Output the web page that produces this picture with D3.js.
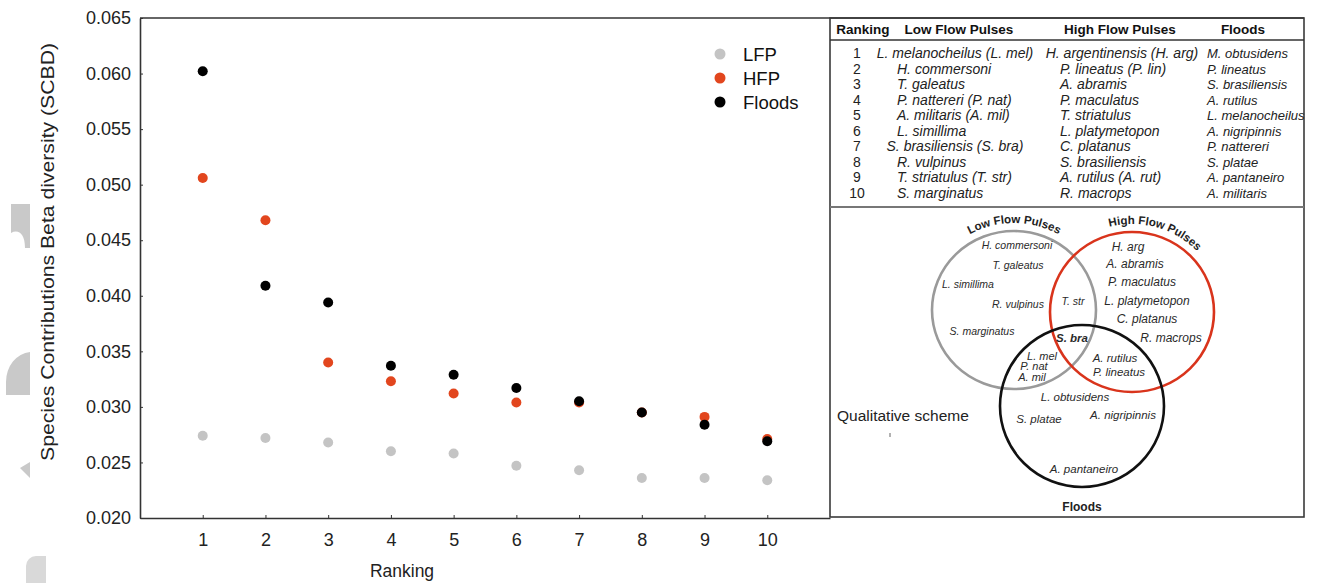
<!DOCTYPE html>
<html>
<head>
<meta charset="utf-8">
<script src="https://d3js.org/d3.v7.min.js"></script>
<style>
  body { margin: 0; background: #fff; }
  svg { display: block; font-family: "Liberation Sans", Arial, Helvetica, sans-serif; }
</style>
</head>
<body>
<svg id="chart"></svg>
<script>
// ---- data: SCBD per ranking ----
var rankings = [1, 2, 3, 4, 5, 6, 7, 8, 9, 10];
var lfpValues   = [0.0274, 0.0272, 0.0268, 0.0260, 0.0258, 0.0247, 0.0243, 0.0236, 0.0236, 0.0234];
var hfpValues   = [0.0506, 0.0468, 0.0340, 0.0323, 0.0312, 0.0304, 0.0304, 0.0295, 0.0291, 0.0271];
var floodValues = [0.0602, 0.0409, 0.0394, 0.0337, 0.0329, 0.0317, 0.0305, 0.0295, 0.0284, 0.0269];
var seriesNames = ["LFP", "HFP", "Floods"];
var yTicks = [0.020, 0.025, 0.030, 0.035, 0.040, 0.045, 0.050, 0.055, 0.060, 0.065];

// ---- data: ranking table ----
var tableHeaders = ["Ranking", "Low Flow Pulses", "High Flow Pulses", "Floods"];
var lfpSpecies = ["L. melanocheilus (L. mel)", "H. commersoni", "T. galeatus", "P. nattereri (P. nat)",
  "A. militaris (A. mil)", "L. simillima", "S. brasiliensis (S. bra)", "R. vulpinus",
  "T. striatulus (T. str)", "S. marginatus"];
var hfpSpecies = ["H. argentinensis (H. arg)", "P. lineatus (P. lin)", "A. abramis", "P. maculatus",
  "T. striatulus", "L. platymetopon", "C. platanus", "S. brasiliensis", "A. rutilus (A. rut)", "R. macrops"];
var floodSpecies = ["M. obtusidens", "P. lineatus", "S. brasiliensis", "A. rutilus", "L. melanocheilus",
  "A. nigripinnis", "P. nattereri", "S. platae", "A. pantaneiro", "A. militaris"];

// ---- data: qualitative scheme (venn groups) ----
var vennSets = ["Low Flow Pulses", "High Flow Pulses", "Floods"];
var lfpOnly = ["H. commersoni", "T. galeatus", "L. simillima", "R. vulpinus", "S. marginatus"];
var lfpHfp = ["T. str"];
var allThree = ["S. bra"];
var lfpFloods = ["L. mel", "P. nat", "A. mil"];
var hfpOnly = ["H. arg", "A. abramis", "P. maculatus", "L. platymetopon", "C. platanus", "R. macrops"];
var hfpFloods = ["A. rutilus", "P. lineatus"];
var floodsOnly = ["L. obtusidens", "S. platae", "A. nigripinnis", "A. pantaneiro"];

var colors = { LFP: "#c4c4c4", HFP: "#e2461e", Floods: "#000000" };

var W = 1317, H = 583;
var svg = d3.select("#chart").attr("width", W).attr("height", H);

// faint cut-off shapes on the left margin of the figure
var deco = svg.append("g").attr("fill", "#c9c9c9");
deco.append("path").attr("d", "M11,204H30V248H25C25,233 18,229 11,233Z");
deco.append("path").attr("d", "M30,352A26,30 0 0 0 6,382L6,395L30,395Z");
deco.append("path").attr("d", "M20,468L30,462L30,478Z");
deco.append("path").attr("d", "M26,583V566A10,10 0 0 1 36,556H46V583Z").attr("fill", "#d9d9d9");

// ---- scatter ----
var plot = { left: 140, right: 830, top: 18, bottom: 518 };
var x = d3.scaleLinear().domain([0, 11]).range([plot.left, plot.right]);
var y = d3.scaleLinear().domain([0.020, 0.065]).range([plot.bottom, plot.top]);

var yAxis = svg.append("g")
  .attr("transform", "translate(" + plot.left + ",0)")
  .call(d3.axisLeft(y).tickValues(yTicks).tickFormat(d3.format(".3f")).tickSizeInner(-3).tickSizeOuter(0).tickPadding(9));
var xAxis = svg.append("g")
  .attr("transform", "translate(0," + plot.bottom + ")")
  .call(d3.axisBottom(x).tickValues(rankings).tickFormat(d3.format("d")).tickSizeInner(-3).tickSizeOuter(0).tickPadding(15));

[yAxis, xAxis].forEach(function (a) {
  a.select(".domain").attr("stroke", "#333").attr("stroke-width", 1.6);
  a.selectAll(".tick line").attr("stroke", "#333");
  a.selectAll(".tick text").attr("fill", "#222").style("font-size", "18px")
    .style("font-family", "'Liberation Sans', Arial, sans-serif");
});

// top border of the whole figure
svg.append("line").attr("x1", plot.left).attr("x2", 1304).attr("y1", plot.top).attr("y2", plot.top)
  .attr("stroke", "#333").attr("stroke-width", 1.4);

svg.append("text")
  .attr("transform", "translate(54," + 252 + ")rotate(-90)")
  .attr("text-anchor", "middle")
  .attr("textLength", 418).attr("lengthAdjust", "spacingAndGlyphs")
  .style("font-size", "19px").attr("fill", "#222")
  .text("Species Contributions Beta diversity (SCBD)");

svg.append("text")
  .attr("x", 402).attr("y", 577).attr("text-anchor", "middle")
  .style("font-size", "17.5px").attr("fill", "#222")
  .text("Ranking");

var series = [
  { name: "LFP", values: lfpValues },
  { name: "HFP", values: hfpValues },
  { name: "Floods", values: floodValues }
];

svg.selectAll(".series")
  .data(series)
  .enter().append("g").attr("class", "series")
  .attr("fill", function (s) { return colors[s.name]; })
  .selectAll("circle")
  .data(function (s) { return s.values.map(function (v, i) { return { r: rankings[i], v: v }; }); })
  .enter().append("circle")
  .attr("cx", function (d) { return x(d.r); })
  .attr("cy", function (d) { return y(d.v); })
  .attr("r", 5);

var legend = svg.append("g").attr("transform", "translate(720,54)");
var li = legend.selectAll("g").data(seriesNames).enter().append("g")
  .attr("transform", function (d, i) { return "translate(0," + (i * 24) + ")"; });
li.append("circle").attr("r", 5.5).attr("fill", function (d) { return colors[d]; });
li.append("text").attr("x", 23).attr("y", 6.5).style("font-size", "18.5px").attr("fill", "#111")
  .text(function (d) { return d; });

// ---- ranking table ----
var table = { left: 830, right: 1304, top: 18, bottom: 517, headLine: 40, split: 207 };
svg.append("rect")
  .attr("x", table.left).attr("y", table.top)
  .attr("width", table.right - table.left).attr("height", table.bottom - table.top)
  .attr("fill", "none").attr("stroke", "#3a3a3a").attr("stroke-width", 1.6);
svg.append("line").attr("x1", table.left).attr("x2", table.right)
  .attr("y1", table.headLine).attr("y2", table.headLine).attr("stroke", "#333").attr("stroke-width", 1.4);
svg.append("line").attr("x1", table.left).attr("x2", table.right)
  .attr("y1", table.split).attr("y2", table.split).attr("stroke", "#777").attr("stroke-width", 2);

var headX = [863, 959, 1120, 1243];
svg.selectAll(".head").data(tableHeaders).enter().append("text")
  .attr("class", "head")
  .attr("x", function (d, i) { return headX[i]; }).attr("y", 34)
  .attr("text-anchor", "middle")
  .style("font-size", "13.5px").style("font-weight", "bold").attr("fill", "#111")
  .text(function (d) { return d; });

var rowY = d3.scaleLinear().domain([1, 10]).range([58, 198]);

svg.selectAll(".rank").data(rankings).enter().append("text")
  .attr("class", "rank")
  .attr("x", 857).attr("y", function (d) { return rowY(d); })
  .attr("text-anchor", "middle")
  .style("font-size", "14px").attr("fill", "#222")
  .text(function (d) { return d; });

// species columns: left aligned, long names centred on the column
function speciesColumn(names, leftX, centreX, size) {
  svg.append("g").selectAll("text").data(names).enter().append("text")
    .attr("y", function (d, i) { return rowY(rankings[i]); })
    .style("font-size", size).style("font-style", "italic").attr("fill", "#222")
    .text(function (d) { return d; })
    .attr("x", function () {
      var w = this.getComputedTextLength();
      return Math.min(leftX, centreX - w / 2);
    });
}
speciesColumn(lfpSpecies, 897, 955, "14px");
speciesColumn(hfpSpecies, 1060, 1122, "14px");
speciesColumn(floodSpecies, 1207, 9999, "13px");

// ---- qualitative scheme (venn) ----
var circles = [
  { name: vennSets[0], cx: 1014, cy: 310, rx: 82, ry: 79, stroke: "#9a9a9a", labelAngle: 0 },
  { name: vennSets[1], cx: 1132, cy: 312, rx: 82, ry: 80, stroke: "#d9341c", labelAngle: 16 },
  { name: vennSets[2], cx: 1082, cy: 406, rx: 82, ry: 81, stroke: "#111111", labelAngle: null }
];

svg.selectAll(".venn").data(circles).enter().append("ellipse")
  .attr("class", "venn")
  .attr("cx", function (d) { return d.cx; }).attr("cy", function (d) { return d.cy; })
  .attr("rx", function (d) { return d.rx; }).attr("ry", function (d) { return d.ry; })
  .attr("fill", "none").attr("stroke", function (d) { return d.stroke; }).attr("stroke-width", 2.6);

// curved set names along the top of the first two circles, one text per word
var defs = svg.append("defs");
circles.forEach(function (c, i) {
  if (c.labelAngle === null) return;
  var rx = c.rx + 8, ry = c.ry + 8;
  var a0 = (c.labelAngle - 80) * Math.PI / 180, a1 = (c.labelAngle + 80) * Math.PI / 180;
  var p = "M" + (c.cx + rx * Math.sin(a0)) + "," + (c.cy - ry * Math.cos(a0)) +
    "A" + rx + "," + ry + " 0 0 1 " + (c.cx + rx * Math.sin(a1)) + "," + (c.cy - ry * Math.cos(a1));
  var path = defs.append("path").attr("id", "arc" + i).attr("d", p);
  var L = path.node().getTotalLength();

  var probe = svg.append("text").style("font-size", "11.5px").style("font-weight", "bold");
  function measure(s) { probe.text(s); return probe.node().getComputedTextLength(); }
  var words = c.name.split(" ");
  var start = L / 2 - measure(c.name) / 2;
  words.forEach(function (wd, k) {
    var off = k === 0 ? 0 : measure(words.slice(0, k + 1).join(" ")) - measure(wd);
    svg.append("text").style("font-size", "11.5px").style("font-weight", "bold").attr("fill", "#222")
      .append("textPath").attr("href", "#arc" + i).attr("startOffset", start + off)
      .text(wd);
  });
  probe.remove();
});
svg.append("text").attr("x", 1082).attr("y", 511).attr("text-anchor", "middle")
  .style("font-size", "12px").style("font-weight", "bold").attr("fill", "#222")
  .text(vennSets[2]);

// label placement for each region of the diagram
var vennLayout = [
  { names: lfpOnly, size: "10.5px", pos: [[1017, 249], [1018, 269], [968, 288], [1018, 308], [982, 335]] },
  { names: lfpHfp, size: "10.5px", pos: [[1073, 305]] },
  { names: allThree, size: "11.5px", bold: true, pos: [[1072, 342]] },
  { names: lfpFloods, size: "11px", pos: [[1042, 360], [1034, 370], [1032, 381]] },
  { names: hfpOnly, size: "12px", pos: [[1128, 251], [1135, 268], [1142, 286], [1147, 305], [1147, 323], [1171, 342]] },
  { names: hfpFloods, size: "11.5px", pos: [[1115, 362], [1119, 376]] },
  { names: floodsOnly, size: "11.5px", pos: [[1075, 401], [1039, 423], [1123, 419], [1084, 473]] }
];
vennLayout.forEach(function (g) {
  svg.append("g").selectAll("text").data(g.names).enter().append("text")
    .attr("x", function (d, i) { return g.pos[i][0]; })
    .attr("y", function (d, i) { return g.pos[i][1]; })
    .attr("text-anchor", "middle")
    .style("font-size", g.size).style("font-style", "italic")
    .style("font-weight", g.bold ? "bold" : "normal").attr("fill", "#2a2a2a")
    .text(function (d) { return d; });
});

svg.append("text").attr("x", 837).attr("y", 421)
  .style("font-size", "15.5px").attr("fill", "#222").text("Qualitative scheme");
svg.append("line").attr("x1", 890).attr("x2", 890).attr("y1", 433).attr("y2", 437)
  .attr("stroke", "#666").attr("stroke-width", 1);
</script>
</body>
</html>
